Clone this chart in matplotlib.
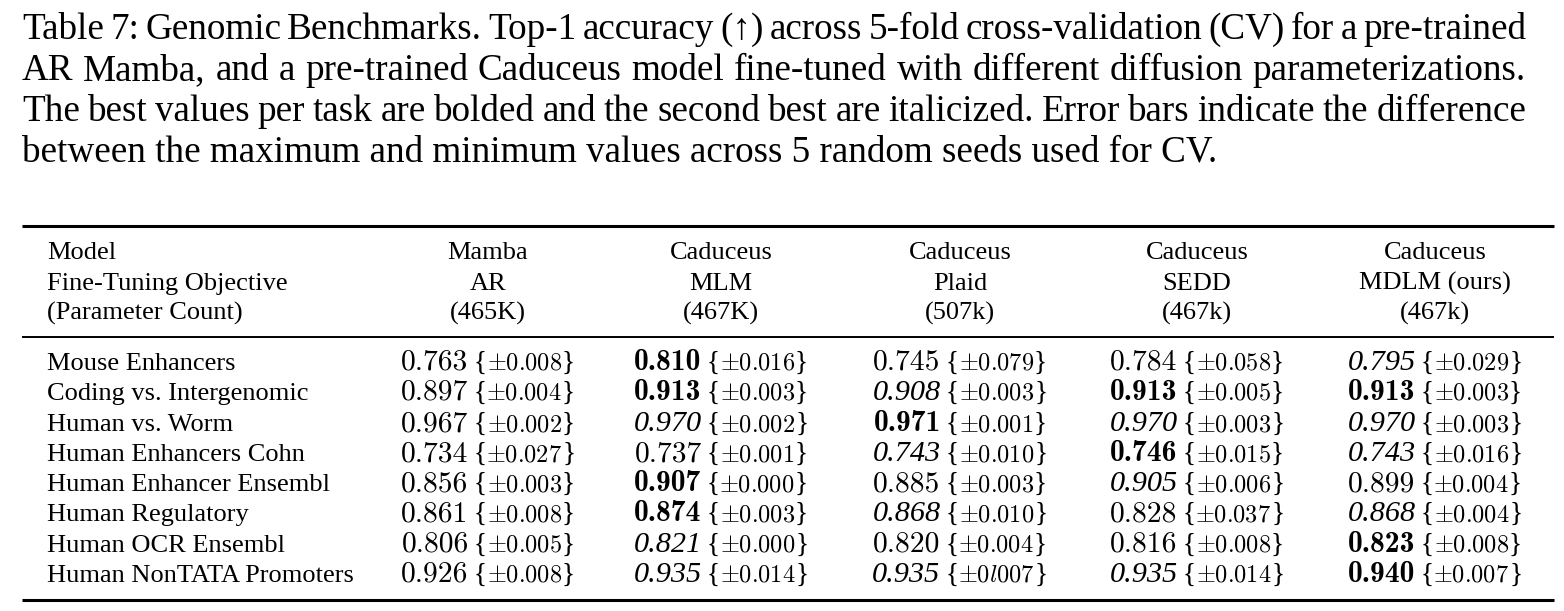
import os
import matplotlib
matplotlib.use("Agg")
import matplotlib.pyplot as plt
from matplotlib.font_manager import FontProperties

plt.rcParams['mathtext.fontset'] = 'cm'
plt.rcParams['font.family'] = ['Liberation Serif', 'DejaVu Serif']

caption = [
    "Table 7: Genomic Benchmarks. Top-1 accuracy (\u2191) across 5-fold cross-validation (CV) for a pre-trained",
    "AR Mamba, and a pre-trained Caduceus model fine-tuned with different diffusion parameterizations.",
    "The best values per task are bolded and the second best are italicized. Error bars indicate the difference",
    "between the maximum and minimum values across 5 random seeds used for CV.",
]

header_rows = ["Model", "Fine-Tuning Objective", "(Parameter Count)"]
models = ["Mamba", "Caduceus", "Caduceus", "Caduceus", "Caduceus"]
objectives = ["AR", "MLM", "Plaid", "SEDD", "MDLM (ours)"]
params = ["(465K)", "(467K)", "(507k)", "(467k)", "(467k)"]

tasks = ["Mouse Enhancers", "Coding vs. Intergenomic", "Human vs. Worm",
         "Human Enhancers Cohn", "Human Enhancer Ensembl", "Human Regulatory",
         "Human OCR Ensembl", "Human NonTATA Promoters"]

# accuracy per column (one list per model)
acc_mamba = [0.763, 0.897, 0.967, 0.734, 0.856, 0.861, 0.806, 0.926]
acc_mlm   = [0.810, 0.913, 0.970, 0.737, 0.907, 0.874, 0.821, 0.935]
acc_plaid = [0.745, 0.908, 0.971, 0.743, 0.885, 0.868, 0.820, 0.935]
acc_sedd  = [0.784, 0.913, 0.970, 0.746, 0.905, 0.828, 0.816, 0.935]
acc_mdlm  = [0.795, 0.913, 0.970, 0.743, 0.899, 0.868, 0.823, 0.940]

# error bars kept as printed (incl. the "0l007" typo of the original)
err_mamba = ["0.008", "0.004", "0.002", "0.027", "0.003", "0.008", "0.005", "0.008"]
err_mlm   = ["0.016", "0.003", "0.002", "0.001", "0.000", "0.003", "0.000", "0.014"]
err_plaid = ["0.079", "0.003", "0.001", "0.010", "0.003", "0.010", "0.004", "0l007"]
err_sedd  = ["0.058", "0.005", "0.003", "0.015", "0.006", "0.037", "0.008", "0.014"]
err_mdlm  = ["0.029", "0.003", "0.003", "0.016", "0.004", "0.004", "0.008", "0.007"]

accs = [acc_mamba, acc_mlm, acc_plaid, acc_sedd, acc_mdlm]
errs = [err_mamba, err_mlm, err_plaid, err_sedd, err_mdlm]

ttf = os.path.join(matplotlib.get_data_path(), "fonts", "ttf")
num_fs = 21.3
err_fs = 17.5
brace_fs = 19.5
f_reg = FontProperties(fname=os.path.join(ttf, "cmr10.ttf"), size=num_fs)
f_bold = FontProperties(fname=os.path.join(ttf, "cmb10.ttf"), size=num_fs)
f_it = FontProperties(family="Liberation Serif", style="italic", size=num_fs + 0.5)

W, H = 1564, 611
fig = plt.figure(figsize=(W / 100, H / 100), dpi=100)
ax = fig.add_axes([0, 0, 1, 1])
ax.set_xlim(0, W)
ax.set_ylim(H, 0)
ax.axis('off')
fig.canvas.draw()
renderer = fig.canvas.get_renderer()


def width(t):
    return t.get_window_extent(renderer).width


# caption, justified like the LaTeX original
cap_fs = 26.7
cap_left, cap_right = 22, 1526
cap_y = [39, 80, 121, 162]
for i, line in enumerate(caption):
    if i == len(caption) - 1:
        ax.text(cap_left, cap_y[i], line, fontsize=cap_fs, va='baseline', ha='left')
        continue
    words = line.split(" ")
    objs = [ax.text(0, cap_y[i], w, fontsize=cap_fs, va='baseline', ha='left') for w in words]
    widths = [width(t) for t in objs]
    gap = (cap_right - cap_left - sum(widths)) / (len(words) - 1)
    x = cap_left
    for t, w in zip(objs, widths):
        t.set_x(x)
        x += w + gap

# table rules
tab_left, tab_right = 22, 1554
ax.hlines(226, tab_left, tab_right, color='black', lw=2.2)
ax.hlines(337, tab_left, tab_right, color='black', lw=1.4)
ax.hlines(600, tab_left, tab_right, color='black', lw=2.2)

fs = 19
label_x = 47
col_x = [488, 721, 960, 1197, 1435]
head_y = [259, 290, 320]

for r, txt in enumerate(header_rows):
    ax.text(label_x, head_y[r], txt, fontsize=fs, va='baseline', ha='left')
for c, x in enumerate(col_x):
    for r, txt in enumerate([models[c], objectives[c], params[c]]):
        ax.text(x, head_y[r], txt, fontsize=fs, va='baseline', ha='center')

row_y = [370, 400, 431, 461, 491, 521, 552, 582]
gaps = [5, 0, 0]
for r, task in enumerate(tasks):
    ax.text(label_x, row_y[r], task, fontsize=fs, va='baseline', ha='left')
    vals = [a[r] for a in accs]
    ranked = sorted(set(vals), reverse=True)
    for c, cx in enumerate(col_x):
        v = vals[c]
        if v == ranked[0]:
            fp = f_bold
        elif v == ranked[1]:
            fp = f_it
        else:
            fp = f_reg
        parts = [
            ax.text(0, row_y[r], f"{v:.3f}", fontproperties=fp, va='baseline', ha='left'),
            ax.text(0, row_y[r], "{", fontsize=brace_fs, va='baseline', ha='left'),
            ax.text(0, row_y[r], r"$\pm" + errs[c][r] + "$", fontsize=err_fs,
                    va='baseline', ha='left'),
            ax.text(0, row_y[r], "}", fontsize=brace_fs, va='baseline', ha='left'),
        ]
        ws = [width(t) for t in parts]
        x = cx - (sum(ws) + sum(gaps)) / 2
        for k, (t, w) in enumerate(zip(parts, ws)):
            t.set_x(x)
            x += w + (gaps[k] if k < len(gaps) else 0)

fig.savefig("out.png", dpi=100)
